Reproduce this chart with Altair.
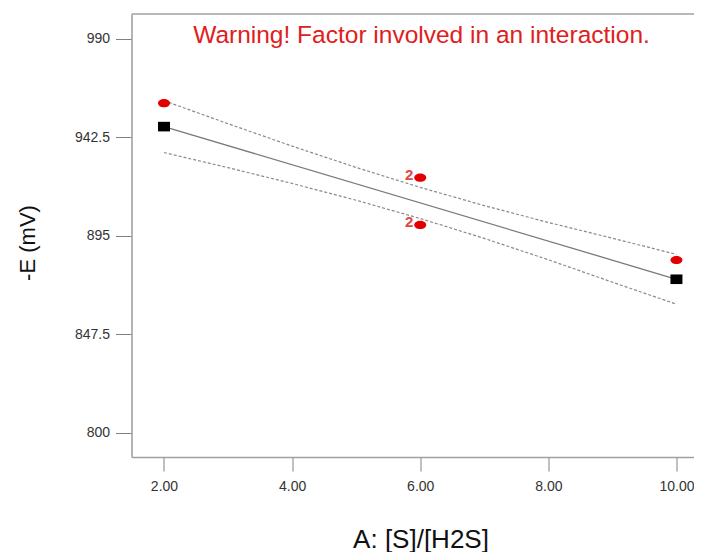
import altair as alt
import pandas as pd

# Design points (actual responses)
act_x = [2.0, 6.0, 6.0, 10.0]
act_y = [959.0, 923.1, 900.3, 883.4]
act_label = ["", "2", "2", ""]

# Predicted line (end points shown as squares)
pred_x = [2.0, 10.0]
pred_y = [947.7, 874.1]

# 95% confidence bands
band_x = [2, 3, 4, 5, 6, 7, 8, 9, 10]
band_upper = [960.2, 949.1, 938.3, 928.0, 918.4, 909.6, 901.5, 893.9, 886.1]
band_lower = [935.2, 927.9, 920.3, 912.2, 903.4, 893.8, 883.5, 872.7, 862.1]

x_ticks = [2, 4, 6, 8, 10]
y_ticks = [800, 847.5, 895, 942.5, 990]
warning = ["Warning! Factor involved in an interaction."]

W, H = 562.5, 443
FONT = "Liberation Sans"

act_df = pd.DataFrame({"x": act_x, "y": act_y, "lab": act_label})
pred_df = pd.DataFrame({"x": pred_x, "y": pred_y})
band_df = pd.concat([
    pd.DataFrame({"x": band_x, "y": band_upper, "band": "upper"}),
    pd.DataFrame({"x": band_x, "y": band_lower, "band": "lower"}),
])

x_enc = alt.X(
    "x:Q",
    scale=alt.Scale(domain=[1.4927, 10.274], nice=False, zero=False),
    axis=alt.Axis(
        values=x_ticks, format=".2f", title="A: [S]/[H2S]",
        tickSize=14, labelPadding=8, grid=False,
        titleX=289, titleY=90, titleAlign="center", titleBaseline="alphabetic",
        titleFontSize=26, titleFontWeight="normal", titleColor="#111111",
    ),
)
y_enc = alt.Y(
    "y:Q",
    scale=alt.Scale(domain=[788.4, 1002.0], nice=False, zero=False),
    axis=alt.Axis(
        values=y_ticks, format=".1~f", title="-E (mV)",
        tickSize=16, labelPadding=6, grid=False,
        titleX=-97, titleY=228.5, titleAngle=270, titleAlign="center",
        titleBaseline="alphabetic", titleFontSize=22, titleFontWeight="normal",
        titleColor="#111111",
    ),
)

bands = alt.Chart(band_df).mark_line(
    color="#8a8a8a", strokeWidth=1.2, strokeDash=[3, 2]
).encode(x=x_enc, y=y_enc, detail="band:N")

line = alt.Chart(pred_df).mark_line(color="#7a7a7a", strokeWidth=1.3).encode(x=x_enc, y=y_enc)

squares = alt.Chart(pred_df).mark_point(
    shape="M-1,-0.8H1V0.8H-1Z", size=144, filled=True, color="black", opacity=1
).encode(x=x_enc, y=y_enc)

circles = alt.Chart(act_df).mark_point(
    shape="M-1,0A1,0.68,0,1,1,1,0A1,0.68,0,1,1,-1,0Z", size=144, filled=True,
    color="#e00000", opacity=1
).encode(x=x_enc, y=y_enc)

labels = alt.Chart(act_df).mark_text(
    align="right", baseline="middle", dx=-7, dy=-3, fontSize=15,
    fontWeight="bold", color="#e04848", font=FONT
).encode(x=x_enc, y=y_enc, text="lab:N")

warn = alt.Chart(pd.DataFrame({"t": warning})).mark_text(
    align="center", baseline="alphabetic", fontSize=24.5, color="#e02020", font=FONT
).encode(x=alt.value(290), y=alt.value(29), text="t:N")

# top border of the frame (explicit horizontal segment)
top = alt.Chart(pd.DataFrame({"a": [0]})).mark_rule(
    color="#a0a0a0", strokeWidth=1.6
).encode(x=alt.value(0), x2=alt.value(W), y=alt.value(0), y2=alt.value(0))

chart = alt.layer(bands, line, squares, circles, labels, warn, top).properties(
    width=W, height=H,
    autosize=alt.AutoSizeParams(type="none"),
    padding={"left": 123.5, "top": 6, "right": 0, "bottom": 95},
    background="white",
).configure_view(stroke="transparent", strokeWidth=0).configure_axis(
    labelFont=FONT, titleFont=FONT, labelFontSize=14, labelColor="#333333",
    tickColor="#808080", tickWidth=1, domainColor="#a0a0a0", domainWidth=1.6,
)

chart.save("out.html", embed_options={"renderer": "svg", "actions": False})
